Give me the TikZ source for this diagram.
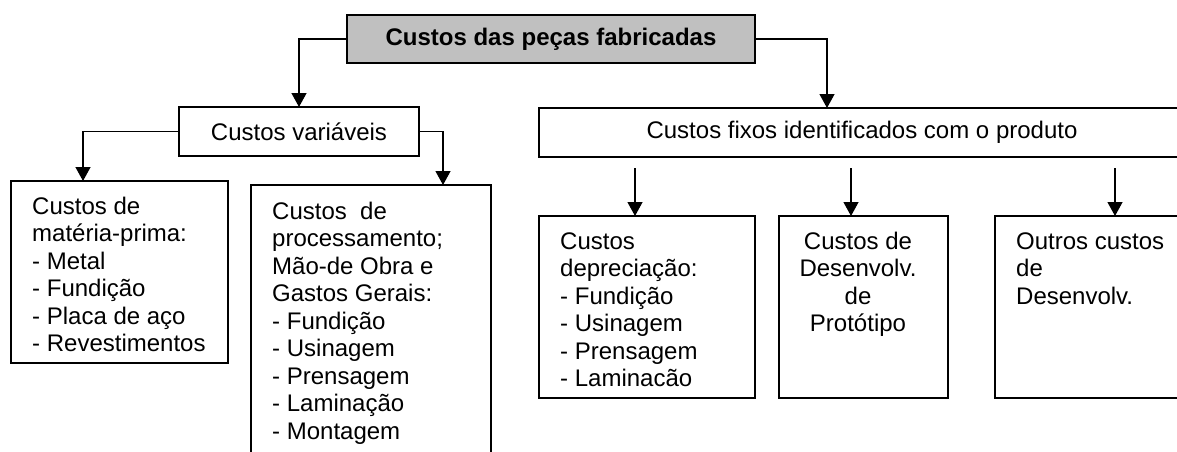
\documentclass[tikz,border=0pt]{standalone}
\usepackage{fontspec}
\setmainfont{Liberation Sans}
\usetikzlibrary{arrows.meta}
\definecolor{hdrgray}{HTML}{C0C0C0}
\newcommand{\fs}{\fontsize{24}{27.5}\selectfont}
\newcommand{\tstrut}{\rule{0pt}{20pt}}
\begin{document}
\begin{tikzpicture}[x=1pt,y=-1pt,
  box/.style={draw, line width=1.4pt, inner sep=0pt, outer sep=0pt, anchor=north west},
  txt/.style={font=\fs, align=left, inner sep=0pt, anchor=north west},
  conn/.style={line width=1.3pt},
  arr/.style={conn, -{Triangle[width=15pt,length=14pt]}}]
\clip (0,0) rectangle (1177,452);
\fill[white] (0,0) rectangle (1177,452);
% boxes
\node[box, fill=hdrgray, minimum width=408pt, minimum height=48pt, font=\fs\bfseries] (top) at (347,15) {Custos das peças fabricadas};
\node[box, minimum width=240pt, minimum height=49pt, font=\fs] (var) at (179,107) {Custos variáveis};
\node[box, minimum width=646pt, minimum height=49pt, font=\fs] (fix) at (539,108) {Custos fixos identificados com o produto};
\node[box, minimum width=217pt, minimum height=182pt] (mp) at (11,181) {};
\node[box, minimum width=240pt, minimum height=300pt] (proc) at (251,185) {};
\node[box, minimum width=216pt, minimum height=182pt] (dep) at (539,216) {};
\node[box, minimum width=169pt, minimum height=182pt] (proto) at (779,216) {};
\node[box, minimum width=240pt, minimum height=182pt] (outros) at (995,216) {};
% texts
\node[txt] (mpt) at (32,194) {\tstrut Custos de\\matéria-prima:\\- Metal\\- Fundição\\- Placa de aço\\- Revestimentos};
\node[txt] (proct) at (272,199) {\tstrut Custos\ \ de\\processamento;\\Mão-de Obra e\\Gastos Gerais:\\- Fundição\\- Usinagem\\- Prensagem\\- Laminação\\- Montagem};
\node[txt] (dept) at (560,229) {\tstrut Custos\\depreciação:\\- Fundição\\- Usinagem\\- Prensagem\\- Laminacão};
\node[txt, align=center, anchor=north] (protot) at (858,229) {\tstrut Custos de\\Desenvolv.\\de\\Protótipo};
\node[txt] (outrost) at (1016,229) {\tstrut Outros custos\\de\\Desenvolv.};
% connector ends
\coordinate (fixin) at (827,108);
\coordinate (mpin) at (83,181);
\coordinate (procin) at (443,185);
\coordinate (s1) at (635,168);
\coordinate (s2) at (851,168);
\coordinate (s3) at (1115,168);
% connectors
\draw[arr] (top.west) -| (var.north);
\draw[arr] (top.east) -| (fixin);
\draw[arr] (var.west) -| (mpin);
\draw[arr] (var.east) -| (procin);
\draw[arr] (s1) -- (s1 |- dep.north);
\draw[arr] (s2) -- (s2 |- proto.north);
\draw[arr] (s3) -- (s3 |- outros.north);
\end{tikzpicture}
\end{document}
